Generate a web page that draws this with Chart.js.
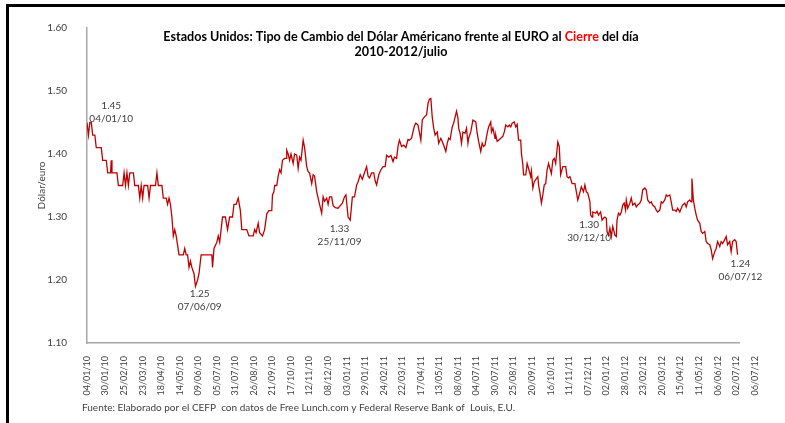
<!DOCTYPE html>
<html lang="es">
<head>
<meta charset="utf-8">
<script src="https://cdn.jsdelivr.net/npm/chart.js@4/dist/chart.umd.min.js"></script>
<style>
  html, body { margin: 0; padding: 0; background: #fff; }
  #grafica { position: absolute; left: 0; top: 0; }
  #marco { position: absolute; left: 6px; top: 4px; width: 779px; height: 419px;
           border-top: 3px solid #000; border-left: 3px solid #000; box-sizing: border-box; pointer-events: none; }
</style>
</head>
<body>
<canvas id="grafica" width="785" height="423"></canvas>
<div id="marco"></div>
<script>
// dias desde el 04/01/10 y tipo de cambio al cierre (dolares por euro)
const dias = [
  0,2,4,6,8,11,13,20,22,27,29,33,34,35,42,44,50,52,54,56,58,60,65,67,72,74,76,78,80,85,87,89,96,98,100,
  105,107,111,113,115,117,119,121,123,125,129,135,137,139,141,143,145,147,150,152,155,157,160,175,176,178,
  182,184,186,188,190,194,197,200,204,206,209,212,215,217,224,227,
  233,235,237,240,242,246,249,252,255,259,260,262,263,266,268,270,272,274,277,279,280,282,284,286,289,291,
  294,296,298,300,303,305,308,310,312,315,317,319,322,324,326,329,331,333,336,338,340,343,345,348,352,355,
  358,361,363,366,369,372,375,378,380,383,386,388,392,394,396,399,402,404,406,409,412,415,418,420,423,426,
  429,431,434,436,438,441,444,447,450,452,455,457,459,
  461,464,468,470,473,476,478,480,482,484,486,488,491,493,496,498,500,503,505,507,509,512,514,518,520,521,
  523,525,527,530,532,534,535,538,541,545,547,549,552,554,556,558,561,563,566,567,569,572,573,575,577,580,
  583,585,587,590,592,594,596,599,601,603,605,608,609,611,612,615,617,619,622,623,625,627,630,632,633,635,
  637,639,641,643,645,647,649,651,653,655,657,660,662,664,667,671,673,675,677,680,684,686,688,690,
  693,696,698,700,702,705,706,708,709,713,715,717,720,722,724,726,728,729,731,733,735,737,740,742,743,745,
  747,749,751,753,755,756,758,761,763,765,768,770,772,775,777,779,782,784,786,789,791,793,796,798,800,803,
  805,807,810,812,814,817,819,821,824,826,828,831,833,835,838,840,842,845,847,848,850,852,854,856,859,861,
  863,866,868,870,873,875,877,880,882,884,887,889,891,894,896,898,901,903,905,908,910,912
];
const cierre = [
  1.45,1.43,1.45,1.45,1.43,1.43,1.41,1.41,1.39,1.39,1.37,1.37,1.39,1.37,1.37,1.35,1.35,1.37,1.35,1.37,1.35,1.37,1.37,1.35,1.35,1.33,1.35,1.33,1.35,1.35,1.33,1.35,1.35,1.37,1.35,
  1.35,1.33,1.33,1.32,1.33,1.32,1.30,1.27,1.28,1.27,1.24,1.24,1.25,1.24,1.24,1.22,1.23,1.22,1.21,1.19,1.20,1.21,1.24,1.24,1.22,1.25,
  1.26,1.27,1.26,1.28,1.30,1.30,1.28,1.30,1.30,1.32,1.32,1.33,1.31,1.28,1.28,1.27,
  1.27,1.28,1.275,1.29,1.275,1.27,1.28,1.305,1.31,1.31,1.335,1.34,1.35,1.35,1.365,1.375,1.37,1.39,1.393,1.393,1.406,1.40,1.39,1.40,1.385,1.40,
  1.398,1.377,1.395,1.39,1.422,1.41,1.38,1.372,1.37,1.353,1.367,1.365,1.34,1.33,1.32,1.306,1.332,1.325,1.33,1.32,1.332,1.332,1.318,1.315,1.314,1.318,
  1.322,1.332,1.335,1.30,1.295,1.332,1.332,1.351,1.356,1.367,1.36,1.367,1.38,1.365,1.362,1.37,1.37,1.357,1.351,1.367,1.375,1.38,1.38,1.398,1.395,1.398,
  1.388,1.395,1.393,1.412,1.422,1.412,1.414,1.41,1.423,1.422,1.425,1.435,1.445,
  1.449,1.446,1.422,1.454,1.459,1.462,1.480,1.487,1.488,1.458,1.441,1.430,1.435,1.417,1.425,1.420,1.414,1.404,1.417,1.425,1.423,1.443,1.449,1.468,1.457,1.441,
  1.433,1.417,1.435,1.433,1.441,1.417,1.425,1.435,1.454,1.451,1.433,1.420,1.404,1.417,1.412,1.414,1.433,1.443,1.451,1.435,1.441,1.425,1.430,1.420,1.422,1.425,
  1.428,1.435,1.446,1.443,1.446,1.443,1.449,1.451,1.443,1.447,1.422,1.422,1.401,1.383,1.367,1.367,1.385,1.377,1.364,1.373,1.346,1.356,1.361,1.364,1.351,1.338,
  1.322,1.335,1.351,1.353,1.375,1.385,1.377,1.369,1.390,1.393,1.385,1.419,1.412,1.367,1.380,1.380,1.364,1.362,1.364,1.353,1.353,1.340,1.327,1.335,
  1.348,1.340,1.351,1.340,1.338,1.324,1.303,1.300,1.308,1.306,1.309,1.303,1.308,1.295,1.298,1.300,1.298,1.277,1.271,1.282,1.269,1.285,1.271,1.269,1.295,1.306,
  1.303,1.308,1.319,1.322,1.311,1.327,1.314,1.322,1.330,1.319,1.322,1.316,1.319,1.322,1.327,1.343,1.346,1.343,1.327,1.322,1.324,1.319,1.316,1.311,1.308,1.311,
  1.324,1.322,1.327,1.335,1.333,1.335,1.324,1.311,1.311,1.309,1.314,1.308,1.314,1.319,1.322,1.316,1.324,1.327,1.324,1.361,1.327,1.314,1.303,1.295,1.290,1.277,
  1.274,1.277,1.261,1.258,1.256,1.248,1.234,1.245,1.250,1.261,1.253,1.261,1.258,1.264,1.269,1.256,1.261,1.245,1.261,1.264,1.261,1.240
];

// etiquetas del eje x, una cada 26 dias
const PASO_DIAS = 26;
const etiquetasX = [
  '04/01/10','30/01/10','25/02/10','23/03/10','18/04/10','14/05/10','09/06/10','05/07/10','31/07/10','26/08/10',
  '21/09/10','17/10/10','12/11/10','08/12/10','03/01/11','29/01/11','24/02/11','22/03/11','17/04/11','13/05/11',
  '08/06/11','04/07/11','30/07/11','25/08/11','20/09/11','16/10/11','11/11/11','07/12/11','02/01/12','28/01/12',
  '23/02/12','20/03/12','15/04/12','11/05/12','06/06/12','02/07/12','06/07/12'
];

// notas sobre la serie: valor, fecha y punto de anclaje (dia, nivel)
const notasValor = ['1.45', '1.25', '1.33', '1.30', '1.24'];
const notasFecha = ['04/01/10', '07/06/09', '25/11/09', '30/12/10', '06/07/12'];
const notasDia   = [34, 158, 354, 704, 916];
const notasNivel = [1.476, 1.178, 1.281, 1.287, 1.225];

const tituloPartes = ['Estados Unidos: Tipo de Cambio del Dólar Américano frente al EURO al ', 'Cierre', ' del día'];
const subtitulo = '2010-2012/julio';
const fuente = 'Fuente: Elaborado por el CEFP  con datos de Free Lunch.com y Federal Reserve Bank of  Louis, E.U.';

const FAMILIA = 'Lato, "Open Sans", sans-serif';
const GRIS = '#404040';

const textos = {
  id: 'textos',
  afterDraw(chart) {
    const { ctx, scales: { x, y } } = chart;
    ctx.save();
    ctx.textBaseline = 'middle';

    // titulo con "Cierre" en rojo
    ctx.font = 'bold 12.6px ' + FAMILIA;
    const colores = ['#000', '#ff0000', '#000'];
    const total = tituloPartes.reduce((s, t) => s + ctx.measureText(t).width, 0);
    let px = 401 - total / 2;
    ctx.textAlign = 'left';
    tituloPartes.forEach((t, i) => {
      ctx.fillStyle = colores[i];
      ctx.fillText(t, px, 37);
      px += ctx.measureText(t).width;
    });
    ctx.fillStyle = '#000';
    ctx.textAlign = 'center';
    ctx.fillText(subtitulo, 401, 52);

    // notas
    ctx.font = '10px ' + FAMILIA;
    ctx.fillStyle = GRIS;
    notasValor.forEach((v, i) => {
      const cx = x.getPixelForValue(notasDia[i]);
      const cy = y.getPixelForValue(notasNivel[i]);
      ctx.fillText(v, cx, cy);
      ctx.fillText(notasFecha[i], cx, cy + 12.5);
    });

    // fuente
    ctx.font = '10px ' + FAMILIA;
    ctx.textAlign = 'left';
    ctx.fillText(fuente, 82, 408);
    ctx.restore();
  }
};

new Chart(document.getElementById('grafica'), {
  type: 'line',
  data: {
    datasets: [{
      label: 'Cierre',
      data: dias.map((d, i) => ({ x: d, y: cierre[i] })),
      borderColor: '#c00000',
      borderWidth: 1.3,
      pointRadius: 0,
      tension: 0,
      fill: false
    }]
  },
  options: {
    responsive: false,
    animation: false,
    layout: { padding: { left: 0, top: 28, right: 46, bottom: 0 } },
    plugins: { legend: { display: false }, tooltip: { enabled: false } },
    scales: {
      x: {
        type: 'linear',
        min: 0,
        max: 914,
        grid: { display: false },
        border: { display: true, color: '#a6a6a6', width: 1.5 },
        afterBuildTicks: s => { s.ticks = etiquetasX.map((t, i) => ({ value: i * PASO_DIAS })); },
        ticks: {
          autoSkip: false,
          maxRotation: 90,
          minRotation: 90,
          padding: 5,
          color: GRIS,
          font: { family: FAMILIA, size: 9 },
          callback: (v, i) => etiquetasX[i]
        },
        afterFit: s => { s.height = 80; }
      },
      y: {
        min: 1.10,
        max: 1.60,
        grid: { display: false },
        border: { display: true, color: '#a6a6a6', width: 1.5 },
        ticks: {
          stepSize: 0.1,
          padding: 12,
          color: GRIS,
          font: { family: FAMILIA, size: 10 },
          callback: v => v.toFixed(2)
        },
        title: {
          display: true,
          text: 'Dólar/euro',
          color: GRIS,
          font: { family: FAMILIA, size: 10 },
          padding: { top: 36, bottom: 0 }
        },
        afterFit: s => { s.width = 87; }
      }
    }
  },
  plugins: [textos]
});
</script>
</body>
</html>
